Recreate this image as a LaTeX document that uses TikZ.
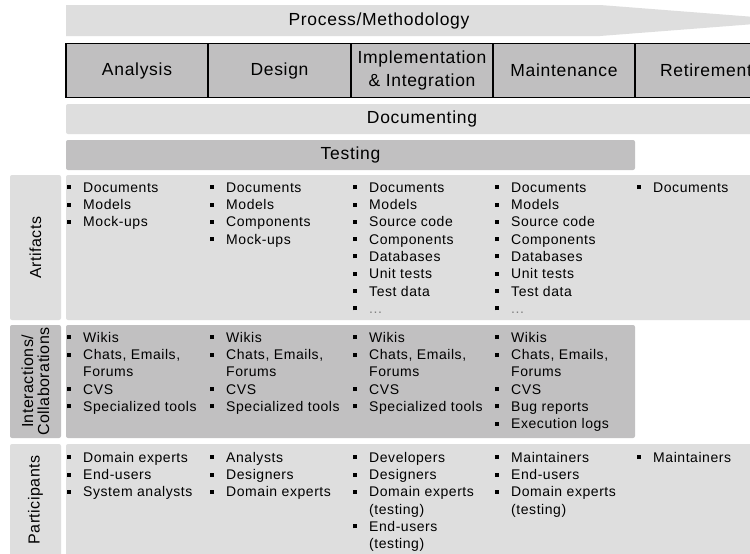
\documentclass[tikz,border=0pt]{standalone}
\usepackage{fontspec}
\setmainfont{Liberation Sans}
\newfontfamily\phasefont[LetterSpace=4]{Liberation Sans}
\newfontfamily\itemfont[LetterSpace=4]{Liberation Sans}
\newfontfamily\rowfont[LetterSpace=3]{Liberation Sans}
\definecolor{lg}{RGB}{222,222,222}
\definecolor{dg}{RGB}{193,192,193}
\definecolor{pg}{RGB}{192,191,192}
\newcommand\bul{\makebox[18pt][l]{\hspace{2pt}\rule[3pt]{4pt}{4pt}}}
\newcommand\cont{\makebox[18pt]{}}
\newcommand\etc{\textcolor{gray}{...}}
\tikzset{
  lightbox/.style={fill=lg, draw=none, rounded corners=2pt},
  darkbox/.style={fill=dg, draw=none, rounded corners=2pt},
  phasebox/.style={draw=black, line width=1.5pt, fill=pg, minimum height=54pt, inner sep=0pt, font=\phasefont\fontsize{17.5}{22.3}\selectfont, align=center},
  bandtext/.style={inner sep=0pt, font=\phasefont\fontsize{17.5}{22}\selectfont},
  rowlabel/.style={rotate=90, inner sep=0pt, align=center, font=\rowfont\fontsize{16}{16}\selectfont},
  itemlist/.style={anchor=north west, inner sep=0pt, font=\itemfont\fontsize{14}{17.3}\selectfont}
}
\begin{document}
\begin{tikzpicture}[x=1pt,y=-1pt]
\useasboundingbox (0,0) rectangle (750,554);
\clip (0,0) rectangle (750,554);
\fill[white] (0,0) rectangle (750,554);
% bands
\fill[lg] (66,5) -- (600,5) -- (800,20.5) -- (600,36) -- (66,36) -- cycle;
\node[bandtext] (proc) at (379,20.5) {Process/Methodology};
\node[phasebox, minimum width=142pt] (an) at (137,70.5) {Analysis};
\node[phasebox, minimum width=143pt] (de) at (279.5,70.5) {Design};
\node[phasebox, minimum width=142pt] (im) at (422,70.5) {Implementation\\\& Integration};
\node[phasebox, minimum width=142pt] (ma) at (564,70.5) {Maintenance};
\node[phasebox, minimum width=142pt] (re) at (706,70.5) {Retirement};
\fill[lg, rounded corners=2pt] (66,104) rectangle (790,134);
\node[bandtext] (doc) at (422,119) {Documenting};
\fill[dg, rounded corners=2pt] (66,140) rectangle (635,170);
\node[bandtext] (test) at (350.5,155) {Testing};
% rows
\fill[lightbox] (10,175) rectangle (61,320);
\fill[lightbox] (66,175) rectangle (790,320);
\fill[darkbox] (10,325) rectangle (61,438);
\fill[darkbox] (66,325) rectangle (635,438);
\fill[lightbox] (10,444) rectangle (61,570);
\fill[lightbox] (66,444) rectangle (790,570);
\node[rowlabel] (lart) at (35.5,247.5) {Artifacts};
\node[rowlabel] (lint) at (35.5,381.5) {Interactions/\\Collaborations};
\node[rowlabel] (lpar) at (35.5,500) {Participants};
% artifacts
\node[itemlist] (a1) at (65,179.9) {\begin{tabular}{@{}l@{}}\bul Documents\\\bul Models\\\bul Mock-ups\end{tabular}};
\node[itemlist] (a2) at (208,179.9) {\begin{tabular}{@{}l@{}}\bul Documents\\\bul Models\\\bul Components\\\bul Mock-ups\end{tabular}};
\node[itemlist] (a3) at (351,179.9) {\begin{tabular}{@{}l@{}}\bul Documents\\\bul Models\\\bul Source code\\\bul Components\\\bul Databases\\\bul Unit tests\\\bul Test data\\\bul \etc\end{tabular}};
\node[itemlist] (a4) at (493,179.9) {\begin{tabular}{@{}l@{}}\bul Documents\\\bul Models\\\bul Source code\\\bul Components\\\bul Databases\\\bul Unit tests\\\bul Test data\\\bul \etc\end{tabular}};
\node[itemlist] (a5) at (635,179.9) {\begin{tabular}{@{}l@{}}\bul Documents\end{tabular}};
% interactions
\node[itemlist] (i1) at (65,329.9) {\begin{tabular}{@{}l@{}}\bul Wikis\\\bul Chats, Emails,\\\cont Forums\\\bul CVS\\\bul Specialized tools\end{tabular}};
\node[itemlist] (i2) at (208,329.9) {\begin{tabular}{@{}l@{}}\bul Wikis\\\bul Chats, Emails,\\\cont Forums\\\bul CVS\\\bul Specialized tools\end{tabular}};
\node[itemlist] (i3) at (351,329.9) {\begin{tabular}{@{}l@{}}\bul Wikis\\\bul Chats, Emails,\\\cont Forums\\\bul CVS\\\bul Specialized tools\end{tabular}};
\node[itemlist] (i4) at (493,329.9) {\begin{tabular}{@{}l@{}}\bul Wikis\\\bul Chats, Emails,\\\cont Forums\\\bul CVS\\\bul Bug reports\\\bul Execution logs\end{tabular}};
% participants
\node[itemlist] (p1) at (65,449.9) {\begin{tabular}{@{}l@{}}\bul Domain experts\\\bul End-users\\\bul System analysts\end{tabular}};
\node[itemlist] (p2) at (208,449.9) {\begin{tabular}{@{}l@{}}\bul Analysts\\\bul Designers\\\bul Domain experts\end{tabular}};
\node[itemlist] (p3) at (351,449.9) {\begin{tabular}{@{}l@{}}\bul Developers\\\bul Designers\\\bul Domain experts\\\cont (testing)\\\bul End-users\\\cont (testing)\end{tabular}};
\node[itemlist] (p4) at (493,449.9) {\begin{tabular}{@{}l@{}}\bul Maintainers\\\bul End-users\\\bul Domain experts\\\cont (testing)\end{tabular}};
\node[itemlist] (p5) at (635,449.9) {\begin{tabular}{@{}l@{}}\bul Maintainers\end{tabular}};
\end{tikzpicture}
\end{document}
